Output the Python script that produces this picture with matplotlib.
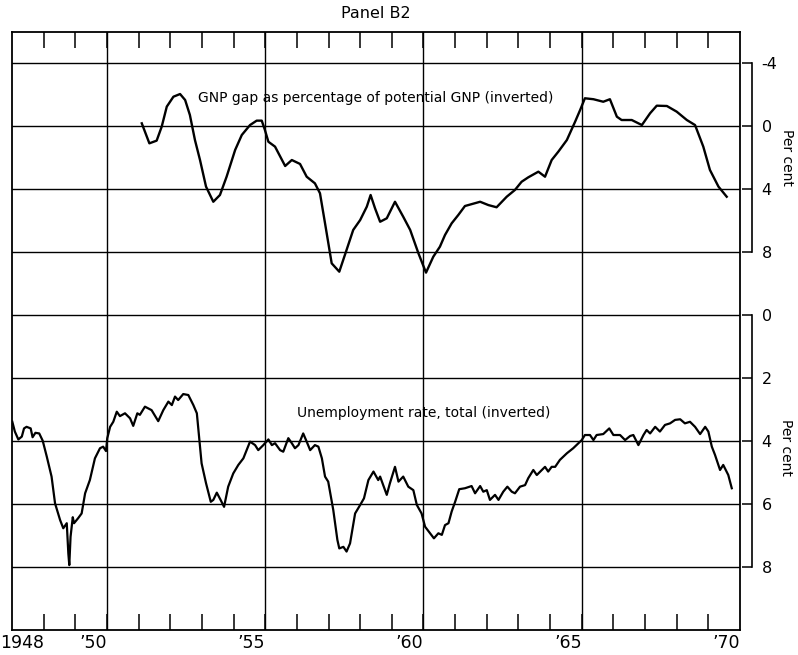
import matplotlib
matplotlib.use("Agg")
import matplotlib.pyplot as plt

plt.rcParams['font.family'] = ['DejaVu Sans']
plt.rcParams['axes.unicode_minus'] = False

# ---------------- data ----------------
gnp_year = [1952.10, 1952.34, 1952.57, 1952.73, 1952.89, 1953.10, 1953.31, 1953.47, 1953.62, 1953.78,
            1953.94, 1954.13, 1954.36, 1954.57, 1954.78, 1955.05, 1955.26, 1955.52, 1955.73, 1955.89,
            1955.99, 1956.10, 1956.31, 1956.63, 1956.84, 1957.10, 1957.31, 1957.57, 1957.73, 1957.89,
            1958.10, 1958.34, 1958.57, 1958.78, 1959.00, 1959.21, 1959.33, 1959.47, 1959.63, 1959.84,
            1960.10, 1960.36, 1960.58, 1960.84, 1961.08, 1961.31, 1961.52, 1961.68, 1961.89, 1962.10,
            1962.31, 1962.79, 1963.05, 1963.31, 1963.63, 1963.89, 1964.10, 1964.31, 1964.63, 1964.84,
            1965.05, 1965.26, 1965.53, 1965.79, 1965.95, 1966.10, 1966.37, 1966.68, 1966.89, 1967.11,
            1967.26, 1967.58, 1967.90, 1968.16, 1968.37, 1968.69, 1969.00, 1969.32, 1969.58, 1969.84,
            1970.05, 1970.32, 1970.58]
gnp_gap = [-0.17, 1.10, 0.93, 0.04, -1.23, -1.86, -2.03, -1.65, -0.70, 0.89,
           2.16, 3.85, 4.81, 4.38, 3.22, 1.52, 0.57, -0.06, -0.34, -0.34,
           0.25, 1.00, 1.31, 2.54, 2.16, 2.41, 3.22, 3.64, 4.27, 6.18,
           8.72, 9.25, 7.87, 6.60, 5.97, 5.12, 4.38, 5.23, 6.08, 5.86,
           4.81, 5.76, 6.60, 8.08, 9.31, 8.30, 7.66, 6.92, 6.18, 5.65,
           5.08, 4.81, 5.02, 5.16, 4.49, 4.06, 3.54, 3.26, 2.90, 3.22,
           2.16, 1.63, 0.89, -0.27, -1.02, -1.76, -1.70, -1.54, -1.70, -0.59,
           -0.38, -0.38, -0.06, -0.81, -1.29, -1.27, -0.91, -0.38, -0.06, 1.31,
           2.79, 3.85, 4.49]

un_year = [1948.01, 1948.09, 1948.20, 1948.31, 1948.38, 1948.46, 1948.59, 1948.65, 1948.74, 1948.86,
           1948.97, 1949.10, 1949.25, 1949.36, 1949.52, 1949.62, 1949.73, 1949.78, 1949.81, 1949.85,
           1949.92, 1949.96, 1950.09, 1950.20, 1950.31, 1950.46, 1950.62, 1950.78, 1950.88, 1950.97,
           1951.01, 1951.10, 1951.20, 1951.31, 1951.41, 1951.57, 1951.73, 1951.83, 1951.96, 1952.04,
           1952.20, 1952.41, 1952.62, 1952.78, 1952.94, 1953.05, 1953.15, 1953.25, 1953.41, 1953.57,
           1953.73, 1953.84, 1953.92, 1953.99, 1954.13, 1954.28, 1954.36, 1954.47, 1954.59, 1954.70,
           1954.83, 1954.99, 1955.15, 1955.31, 1955.52, 1955.68, 1955.78, 1955.94, 1956.10, 1956.21,
           1956.31, 1956.47, 1956.57, 1956.73, 1956.84, 1956.94, 1957.05, 1957.20, 1957.31, 1957.42,
           1957.57, 1957.68, 1957.79, 1957.89, 1957.99, 1958.15, 1958.28, 1958.34, 1958.47, 1958.57,
           1958.68, 1958.84, 1959.00, 1959.12, 1959.26, 1959.42, 1959.57, 1959.63, 1959.84, 1959.94,
           1960.10, 1960.21, 1960.36, 1960.52, 1960.68, 1960.79, 1960.94, 1961.05, 1961.21, 1961.33,
           1961.47, 1961.58, 1961.68, 1961.79, 1961.89, 1962.00, 1962.13, 1962.31, 1962.52, 1962.63,
           1962.79, 1962.89, 1963.00, 1963.10, 1963.26, 1963.37, 1963.52, 1963.65, 1963.79, 1963.89,
           1964.05, 1964.21, 1964.31, 1964.47, 1964.58, 1964.74, 1964.84, 1964.94, 1965.05, 1965.16,
           1965.31, 1965.53, 1965.73, 1966.00, 1966.10, 1966.26, 1966.37, 1966.47, 1966.68, 1966.87,
           1967.00, 1967.21, 1967.37, 1967.53, 1967.63, 1967.79, 1967.95, 1968.05, 1968.16, 1968.32,
           1968.47, 1968.63, 1968.79, 1968.95, 1969.11, 1969.26, 1969.42, 1969.58, 1969.74, 1969.90,
           1970.00, 1970.11, 1970.21, 1970.37, 1970.47, 1970.63, 1970.74]
un_rate = [3.39, 3.70, 3.95, 3.86, 3.60, 3.55, 3.60, 3.88, 3.74, 3.76,
           3.99, 4.50, 5.13, 5.98, 6.51, 6.77, 6.61, 7.57, 7.94, 7.04,
           6.42, 6.61, 6.45, 6.30, 5.66, 5.24, 4.55, 4.23, 4.18, 4.32,
           3.91, 3.55, 3.39, 3.07, 3.21, 3.12, 3.28, 3.52, 3.12, 3.17,
           2.91, 3.02, 3.37, 3.02, 2.75, 2.86, 2.59, 2.70, 2.51, 2.54,
           2.86, 3.12, 3.97, 4.71, 5.34, 5.93, 5.87, 5.64, 5.87, 6.09,
           5.45, 5.03, 4.76, 4.55, 4.02, 4.13, 4.29, 4.13, 3.95, 4.13,
           4.07, 4.29, 4.34, 3.91, 4.07, 4.23, 4.13, 3.76, 4.02, 4.29,
           4.13, 4.18, 4.55, 5.13, 5.29, 6.19, 7.14, 7.41, 7.36, 7.51,
           7.25, 6.30, 6.03, 5.82, 5.24, 4.97, 5.24, 5.13, 5.71, 5.34,
           4.82, 5.29, 5.13, 5.45, 5.56, 6.03, 6.30, 6.72, 6.93, 7.09,
           6.93, 6.98, 6.67, 6.61, 6.24, 5.93, 5.53, 5.50, 5.43, 5.66,
           5.43, 5.61, 5.56, 5.87, 5.71, 5.87, 5.61, 5.45, 5.61, 5.66,
           5.45, 5.40, 5.18, 4.92, 5.08, 4.92, 4.82, 4.97, 4.82, 4.82,
           4.60, 4.39, 4.23, 3.97, 3.81, 3.81, 3.97, 3.81, 3.78, 3.60,
           3.81, 3.81, 3.97, 3.84, 3.81, 4.13, 3.81, 3.65, 3.76, 3.55,
           3.70, 3.49, 3.44, 3.33, 3.31, 3.44, 3.39, 3.55, 3.78, 3.55,
           3.70, 4.18, 4.44, 4.92, 4.76, 5.08, 5.50]

year_ticks = list(range(1949, 1971))
grid_years = [1951, 1956, 1961, 1966]
year_label_text = ["1948", "\u201950", "\u201955", "\u201960", "\u201965", "\u201970"]
year_label_end = [1949, 1951, 1956, 1961, 1966, 1971]
gnp_ticks = [-4, 0, 4, 8]
gnp_tick_labels = ["-4", "0", "4", "8"]
un_ticks = [0, 2, 4, 6, 8]
un_tick_labels = ["0", "2", "4", "6", "8"]

# ---------------- figure ----------------
W, H = 798, 655
fig = plt.figure(figsize=(W / 100, H / 100), dpi=100)
L, R, T, B = 12, 740, 32, 630
ax = fig.add_axes([L / W, 1 - B / H, (R - L) / W, (B - T) / H])
ax.set_xlim(1948, 1971)
ax.set_ylim(0, 1)
ax.set_yticks([])
ax.set_xticks(year_ticks)
ax.set_xticklabels([])
ax.tick_params(axis='x', which='major', direction='in', length=11.5, width=1.1,
               top=True, bottom=True, color='black')
for s in ax.spines.values():
    s.set_linewidth(1.3)
    s.set_color('black')
for gy in grid_years:
    ax.axvline(gy, color='black', lw=1.0, zorder=1)

# pixel mapping helpers for the two right scales
def lims(v_a, px_a, v_b, px_b):
    k = (v_b - v_a) / (px_b - px_a)
    top = v_a + (T - px_a) * k
    bot = v_a + (B - px_a) * k
    return bot, top

ax_g = ax.twinx()
ax_g.set_ylim(*lims(-4, 63, 8, 252))
ax_u = ax.twinx()
ax_u.set_ylim(*lims(0, 315, 8, 567))

for a, ticks, labs, lo, hi in [(ax_g, gnp_ticks, gnp_tick_labels, -4, 8),
                                (ax_u, un_ticks, un_tick_labels, 0, 8)]:
    for side in ['left', 'top', 'bottom']:
        a.spines[side].set_visible(False)
    a.spines['right'].set_position(('outward', 8.6))
    a.spines['right'].set_bounds(lo, hi)
    a.spines['right'].set_linewidth(1.2)
    a.set_yticks(ticks)
    a.set_yticklabels(labs)
    a.tick_params(axis='y', direction='in', length=7.5, width=1.1, pad=7,
                  labelsize=11.5, colors='black')
    a.grid(axis='y', color='black', lw=1.0)
    a.set_axisbelow(True)

ax_g.plot(gnp_year, gnp_gap, color='black', lw=1.7, solid_joinstyle='round', zorder=3)
ax_u.plot(un_year, un_rate, color='black', lw=1.6, solid_joinstyle='round', zorder=3)

ax_g.text(1953.88, -1.78, "GNP gap as percentage of potential GNP (inverted)",
          ha='left', va='center', fontsize=10)
ax_u.text(1957.0, 3.11, "Unemployment rate, total (inverted)",
          ha='left', va='center', fontsize=10)

for txt, xe in zip(year_label_text, year_label_end):
    ax.annotate(txt, xy=(xe, 0), xycoords=('data', 'axes fraction'),
                xytext=(0, -3), textcoords='offset points',
                ha='right', va='top', fontsize=12.5)

fig.text(376 / W, 1 - 14 / H, "Panel B2", ha='center', va='center', fontsize=11.5)
fig.text(787 / W, 1 - 157 / H, "Per cent", ha='center', va='center', rotation=270, fontsize=10)
fig.text(786 / W, 1 - 447 / H, "Per cent", ha='center', va='center', rotation=270, fontsize=10)

fig.savefig("out.png", dpi=100)
